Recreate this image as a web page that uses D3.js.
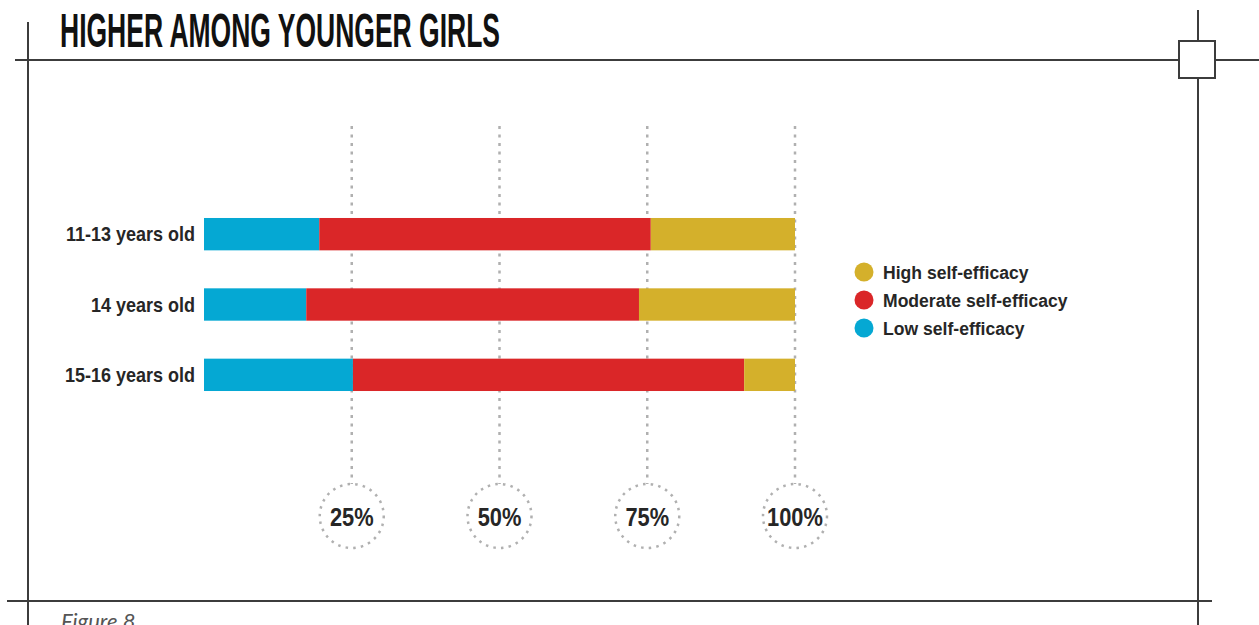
<!DOCTYPE html>
<html>
<head>
<meta charset="utf-8">
<script src="https://cdn.jsdelivr.net/npm/d3@7"></script>
<style>
  html, body { margin: 0; padding: 0; background: #fff; }
  svg { display: block; }
  .cond { font-family: "Liberation Sans", Arial, sans-serif; font-weight: bold; }
</style>
</head>
<body>
<svg id="chart" width="1259" height="625"></svg>
<script>
// Self-efficacy levels by age group (share of girls, %)
const ageGroups = ["11-13 years old", "14 years old", "15-16 years old"];
const lowValues = [19.5, 17.3, 25.2];
const moderateValues = [56.1, 56.3, 66.2];
const highValues = [24.4, 26.4, 8.6];

const seriesNames = ["Low self-efficacy", "Moderate self-efficacy", "High self-efficacy"];
const seriesColors = ["#05a8d3", "#da2628", "#d4b02b"];
const legendOrder = ["High self-efficacy", "Moderate self-efficacy", "Low self-efficacy"];

const tickValues = [25, 50, 75, 100];
const tickLabels = ["25%", "50%", "75%", "100%"];

const titleText = "HIGHER AMONG YOUNGER GIRLS";
const captionText = "Figure 8";

const svg = d3.select("#chart");
const frameColor = "#3c3c3c";

// condensed text: a bold sans squeezed horizontally around its anchor point
function condensedText(sel, { x, y, size, squeeze, anchor = "start", fill = "#262626" }) {
  const g = sel.append("g")
    .attr("transform", d => `translate(${typeof x === "function" ? x(d) : x},${typeof y === "function" ? y(d) : y}) scale(${squeeze},1)`);
  return g.append("text")
    .attr("class", "cond")
    .attr("font-size", size)
    .attr("text-anchor", anchor)
    .attr("fill", fill);
}

// ---- page frame -------------------------------------------------------
const frame = svg.append("g").attr("stroke", frameColor).attr("stroke-width", 2).attr("fill", "none");
frame.append("line").attr("x1", 28).attr("y1", 22).attr("x2", 28).attr("y2", 625);
frame.append("line").attr("x1", 15).attr("y1", 60).attr("x2", 1179).attr("y2", 60);
frame.append("line").attr("x1", 1215).attr("y1", 60).attr("x2", 1259).attr("y2", 60);
frame.append("line").attr("x1", 1198).attr("y1", 10).attr("x2", 1198).attr("y2", 41);
frame.append("line").attr("x1", 1198).attr("y1", 78).attr("x2", 1198).attr("y2", 625);
frame.append("rect").attr("x", 1179).attr("y", 41).attr("width", 36).attr("height", 37);
frame.append("line").attr("x1", 7).attr("y1", 601).attr("x2", 1212).attr("y2", 601);

svg.append("text")
  .attr("x", 60).attr("y", 47)
  .attr("font-family", "'Liberation Sans', Arial, sans-serif")
  .attr("font-weight", "bold")
  .attr("font-size", 48)
  .attr("fill", "#111")
  .attr("textLength", 440)
  .attr("lengthAdjust", "spacingAndGlyphs")
  .text(titleText);

svg.append("text")
  .attr("x", 61).attr("y", 629)
  .attr("font-family", "Lato, 'Open Sans', sans-serif")
  .attr("font-style", "italic")
  .attr("font-weight", 400)
  .attr("font-size", 22)
  .attr("fill", "#555")
  .text(captionText);

// ---- scales -----------------------------------------------------------
const x = d3.scaleLinear().domain([0, 100]).range([204, 795]);
const y = d3.scaleBand().domain(ageGroups).range([199, 410]).paddingInner(0.54).paddingOuter(0.27);
const color = d3.scaleOrdinal().domain(seriesNames).range(seriesColors);

const rows = ageGroups.map((g, i) => ({
  group: g,
  "Low self-efficacy": lowValues[i],
  "Moderate self-efficacy": moderateValues[i],
  "High self-efficacy": highValues[i]
}));
const stacked = d3.stack().keys(seriesNames)(rows);

// ---- dotted gridlines with circled tick labels -------------------------
const circleY = 516, circleR = 32;
const grid = svg.append("g");
grid.selectAll("line")
  .data(tickValues)
  .join("line")
  .attr("x1", d => x(d)).attr("x2", d => x(d))
  .attr("y1", 126).attr("y2", circleY - circleR)
  .attr("stroke", "#b0b0b0")
  .attr("stroke-width", 2.5)
  .attr("stroke-dasharray", "3 5.5");

grid.selectAll("circle")
  .data(tickValues)
  .join("circle")
  .attr("cx", d => x(d)).attr("cy", circleY).attr("r", circleR)
  .attr("fill", "none")
  .attr("stroke", "#b0b0b0")
  .attr("stroke-width", 2.5)
  .attr("stroke-dasharray", "2.5 5.2");

condensedText(grid.selectAll("g.tick").data(tickValues).join("g").attr("class", "tick"),
  { x: d => x(d), y: circleY + 10, size: 26, squeeze: 0.84, anchor: "middle" })
  .text(d => tickLabels[tickValues.indexOf(d)]);

// ---- stacked bars -----------------------------------------------------
svg.append("g")
  .selectAll("g")
  .data(stacked)
  .join("g")
  .attr("fill", d => color(d.key))
  .selectAll("rect")
  .data(d => d)
  .join("rect")
  .attr("x", d => x(d[0]))
  .attr("width", d => x(d[1]) - x(d[0]))
  .attr("y", d => y(d.data.group))
  .attr("height", y.bandwidth());

// category labels
condensedText(svg.append("g").selectAll("g").data(ageGroups).join("g"),
  { x: 195, y: d => y(d) + y.bandwidth() / 2 + 7, size: 20, squeeze: 0.9, anchor: "end" })
  .text(d => d);

// ---- legend -----------------------------------------------------------
const legend = svg.append("g")
  .selectAll("g")
  .data(legendOrder)
  .join("g")
  .attr("transform", (d, i) => `translate(864, ${272 + i * 28})`);
legend.append("circle").attr("r", 9.5).attr("fill", d => color(d));
condensedText(legend, { x: 19, y: 7, size: 19, squeeze: 0.925 })
  .text(d => d);
</script>
</body>
</html>
